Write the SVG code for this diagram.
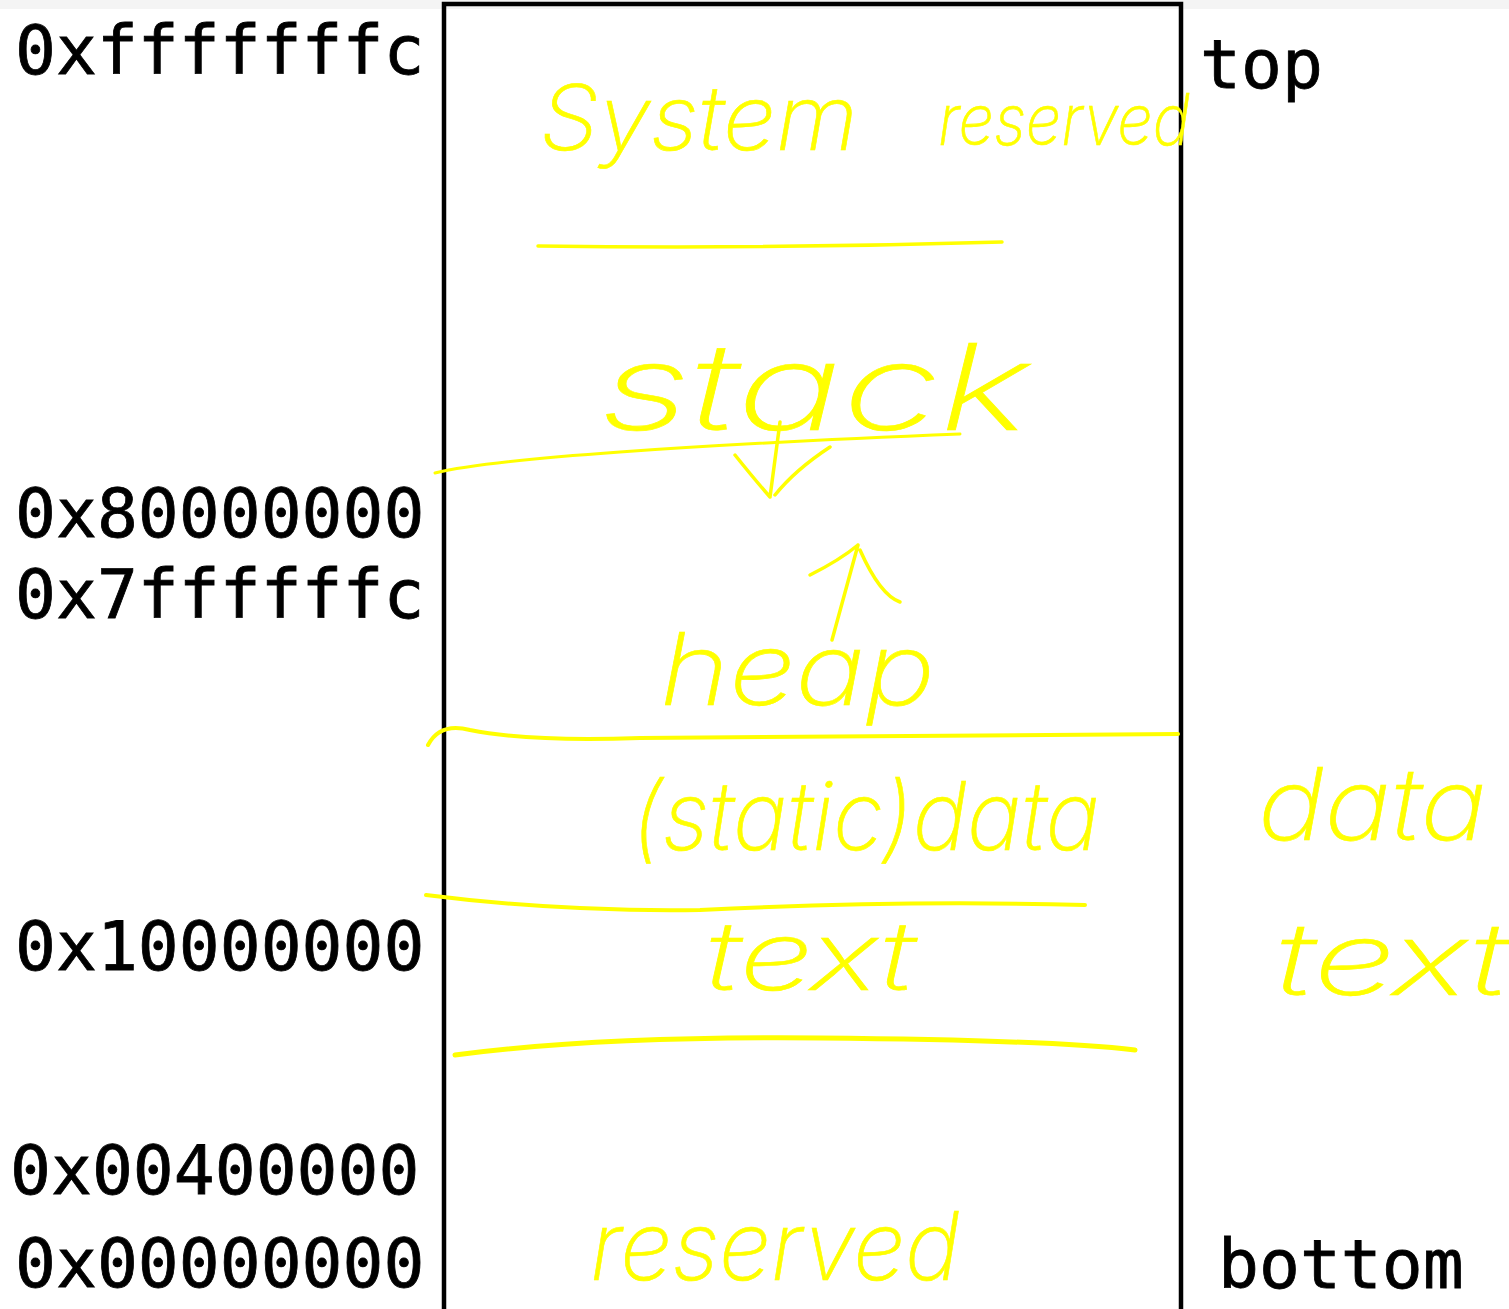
<svg xmlns="http://www.w3.org/2000/svg" width="1509" height="1309" viewBox="0 0 1509 1309">
  <style>
    .addr { font-family: "DejaVu Sans Mono", "Liberation Mono", monospace; font-size: 68px; fill: #000; stroke: #000; stroke-width: 0.8px; }
    .hand { font-family: "Inter", "Lato", "DejaVu Sans", sans-serif; font-style: italic; font-weight: 200; fill: #ffff00; stroke: #ffff00; stroke-width: 0.6px; }
    .ink { fill: none; stroke: #ffff00; stroke-linecap: round; stroke-linejoin: round; }
  </style>

  <rect x="0" y="0" width="1509" height="1309" fill="#ffffff"/>
  <rect x="0" y="0" width="1509" height="9" fill="#f4f4f4"/>

  <!-- memory block outline -->
  <g id="memory-block">
    <path d="M444,1315 V4 H1181 V1315" fill="none" stroke="#000" stroke-width="4.5"/>
  </g>

  <!-- address labels -->
  <g id="addresses">
    <text class="addr" x="15" y="74">0xfffffffc</text>
    <text class="addr" x="15" y="537">0x80000000</text>
    <text class="addr" x="15" y="618">0x7ffffffc</text>
    <text class="addr" x="15" y="970">0x10000000</text>
    <text class="addr" x="10" y="1194">0x00400000</text>
    <text class="addr" x="15" y="1287">0x00000000</text>
  </g>

  <g id="top-label"><text class="addr" x="1200" y="88">top</text></g>
  <g id="bottom-label"><text class="addr" x="1218" y="1288">bottom</text></g>

  <!-- segment names -->
  <g id="system-reserved">
    <text class="hand" font-size="90"><tspan x="540" y="150" textLength="318" lengthAdjust="spacingAndGlyphs">System</tspan><tspan x="938" y="145" font-size="72" textLength="252" lengthAdjust="spacingAndGlyphs">reserved</tspan></text>
  </g>
  <g id="stack">
    <text class="hand" x="600" y="430" font-size="120" textLength="430" lengthAdjust="spacingAndGlyphs">stack</text>
  </g>
  <g id="heap">
    <text class="hand" x="660" y="705" font-size="100" textLength="275" lengthAdjust="spacingAndGlyphs">heap</text>
  </g>
  <g id="static-data">
    <text class="hand" x="632" y="850" font-size="95" textLength="468" lengthAdjust="spacingAndGlyphs">(static)data</text>
  </g>
  <g id="text-segment">
    <text class="hand" x="705" y="990" font-size="95" textLength="210" lengthAdjust="spacingAndGlyphs">text</text>
  </g>
  <g id="reserved">
    <text class="hand" x="590" y="1280" font-size="95" textLength="370" lengthAdjust="spacingAndGlyphs">reserved</text>
  </g>
  <g id="data-side">
    <text class="hand" x="1258" y="840" font-size="100" textLength="229" lengthAdjust="spacingAndGlyphs">data</text>
  </g>
  <g id="text-side">
    <text class="hand" x="1275" y="995" font-size="100" textLength="234" lengthAdjust="spacingAndGlyphs">text</text>
  </g>

  <!-- dividers and growth arrows -->
  <g id="connectors">
    <path class="ink" stroke-width="3.5" d="M538,246 Q770,249 1002,242"/>
    <path class="ink" stroke-width="3" d="M435,473 Q480,462 620,452 T960,434"/>
    <path class="ink" stroke-width="3.5" d="M780,422 L770,497 M735,455 Q755,480 770,497 M830,447 Q795,470 775,495"/>
    <path class="ink" stroke-width="3.5" d="M832,640 L858,545 M810,575 Q840,560 858,545 M860,550 Q880,595 900,602"/>
    <path class="ink" stroke-width="4" d="M428,745 Q440,722 470,730 Q530,742 640,738 L1178,734"/>
    <path class="ink" stroke-width="4" d="M426,895 Q560,912 700,910 Q900,900 1085,905"/>
    <path class="ink" stroke-width="5" d="M455,1055 Q600,1036 820,1038 Q1050,1040 1135,1050"/>
  </g>
</svg>
